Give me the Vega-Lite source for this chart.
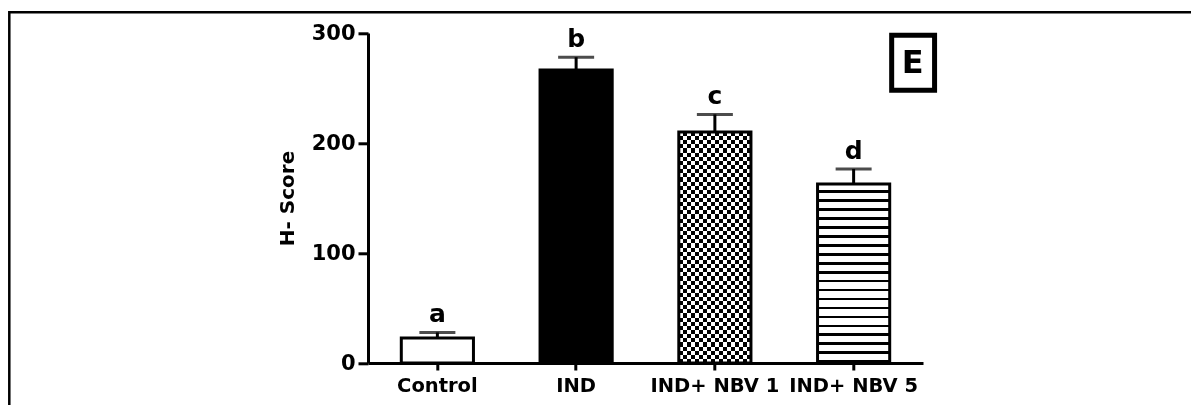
{
  "$schema": "https://vega.github.io/schema/vega-lite/v6.json",
  "autosize": "none",
  "padding": {"left": 9.3, "top": 12.3, "right": -12, "bottom": -12},
  "width": 1193.7,
  "height": 404.7,
  "background": "white",
  "config": {
    "view": {"stroke": "black", "strokeWidth": 2.5},
    "font": "DejaVu Sans"
  },
  "datasets": {
    "bars": [
      {"group": "Control", "mean": 22.7, "upper": 27.8, "letter": "a"},
      {"group": "IND", "mean": 266.4, "upper": 278, "letter": "b"},
      {"group": "IND+ NBV 1", "mean": 210, "upper": 226, "letter": "c"},
      {"group": "IND+ NBV 5", "mean": 162.7, "upper": 176.4, "letter": "d"}
    ],
    "panel": [
      {"group": "IND+ NBV 5", "mean": 273, "panel": "E"}
    ]
  },
  "data": {"name": "bars"},
  "encoding": {
    "x": {
      "field": "group", "type": "nominal", "sort": null,
      "scale": {"range": [358.7, 913.7], "paddingInner": 0.48, "paddingOuter": 0.24},
      "axis": {
        "title": null, "labelAngle": 0, "offset": -54,
        "domainColor": "black", "domainWidth": 3, "tickColor": "black", "tickWidth": 3, "tickSize": 7,
        "labelPadding": 6, "labelFont": "DejaVu Sans", "labelFontWeight": "bold", "labelFontSize": 19.5, "labelColor": "black",
        "grid": false
      }
    },
    "y": {
      "field": "mean", "type": "quantitative",
      "scale": {"domain": [0, 300], "range": [350.7, 20.7], "nice": false, "zero": true},
      "axis": {
        "title": "H- Score", "values": [0, 100, 200, 300], "offset": -358.7, "grid": false,
        "domainColor": "black", "domainWidth": 3, "tickColor": "black", "tickWidth": 3, "tickSize": 10,
        "labelPadding": 3, "labelFont": "DejaVu Sans", "labelFontWeight": "bold", "labelFontSize": 21, "labelColor": "black",
        "titleFont": "DejaVu Sans", "titleFontWeight": "bold", "titleFontSize": 20, "titleColor": "black", "titlePadding": 14
      }
    }
  },
  "layer": [
    {
      "transform": [{"filter": "datum.group === 'Control'"}],
      "mark": {"type": "bar", "fill": "white"}
    },
    {
      "transform": [{"filter": "datum.group === 'IND'"}],
      "mark": {"type": "bar", "fill": "black"}
    },
    {
      "transform": [{"filter": "datum.group === 'IND+ NBV 1'"}],
      "mark": {"type": "bar", "fill": {"gradient": "linear", "x1": 0, "y1": 0, "x2": 1, "y2": 0, "stops": [
        {"offset":0,"color":"black"},{"offset":0.0556,"color":"black"},{"offset":0.0556,"color":"white"},{"offset":0.1111,"color":"white"},{"offset":0.1111,"color":"black"},{"offset":0.1667,"color":"black"},{"offset":0.1667,"color":"white"},{"offset":0.2222,"color":"white"},{"offset":0.2222,"color":"black"},{"offset":0.2778,"color":"black"},{"offset":0.2778,"color":"white"},{"offset":0.3333,"color":"white"},{"offset":0.3333,"color":"black"},{"offset":0.3889,"color":"black"},{"offset":0.3889,"color":"white"},{"offset":0.4444,"color":"white"},{"offset":0.4444,"color":"black"},{"offset":0.5,"color":"black"},{"offset":0.5,"color":"white"},{"offset":0.5556,"color":"white"},{"offset":0.5556,"color":"black"},{"offset":0.6111,"color":"black"},{"offset":0.6111,"color":"white"},{"offset":0.6667,"color":"white"},{"offset":0.6667,"color":"black"},{"offset":0.7222,"color":"black"},{"offset":0.7222,"color":"white"},{"offset":0.7778,"color":"white"},{"offset":0.7778,"color":"black"},{"offset":0.8333,"color":"black"},{"offset":0.8333,"color":"white"},{"offset":0.8889,"color":"white"},{"offset":0.8889,"color":"black"},{"offset":0.9444,"color":"black"},{"offset":0.9444,"color":"white"},{"offset":1,"color":"white"}
      ]}}
    },
    {
      "transform": [{"filter": "datum.group === 'IND+ NBV 1'"}],
      "mark": {"type": "bar", "blend": "difference", "fill": {"gradient": "linear", "x1": 0, "y1": 0, "x2": 0, "y2": 1, "stops": [
        {"offset":0,"color":"white"},{"offset":0.0179,"color":"white"},
        {"offset":0.0179,"color":"black"},{"offset":0.0357,"color":"black"},
        {"offset":0.0357,"color":"white"},{"offset":0.0536,"color":"white"},
        {"offset":0.0536,"color":"black"},{"offset":0.0714,"color":"black"},
        {"offset":0.0714,"color":"white"},{"offset":0.0893,"color":"white"},
        {"offset":0.0893,"color":"black"},{"offset":0.1071,"color":"black"},
        {"offset":0.1071,"color":"white"},{"offset":0.125,"color":"white"},
        {"offset":0.125,"color":"black"},{"offset":0.1429,"color":"black"},
        {"offset":0.1429,"color":"white"},{"offset":0.1607,"color":"white"},
        {"offset":0.1607,"color":"black"},{"offset":0.1786,"color":"black"},
        {"offset":0.1786,"color":"white"},{"offset":0.1964,"color":"white"},
        {"offset":0.1964,"color":"black"},{"offset":0.2143,"color":"black"},
        {"offset":0.2143,"color":"white"},{"offset":0.2321,"color":"white"},
        {"offset":0.2321,"color":"black"},{"offset":0.25,"color":"black"},
        {"offset":0.25,"color":"white"},{"offset":0.2679,"color":"white"},
        {"offset":0.2679,"color":"black"},{"offset":0.2857,"color":"black"},
        {"offset":0.2857,"color":"white"},{"offset":0.3036,"color":"white"},
        {"offset":0.3036,"color":"black"},{"offset":0.3214,"color":"black"},
        {"offset":0.3214,"color":"white"},{"offset":0.3393,"color":"white"},
        {"offset":0.3393,"color":"black"},{"offset":0.3571,"color":"black"},
        {"offset":0.3571,"color":"white"},{"offset":0.375,"color":"white"},
        {"offset":0.375,"color":"black"},{"offset":0.3929,"color":"black"},
        {"offset":0.3929,"color":"white"},{"offset":0.4107,"color":"white"},
        {"offset":0.4107,"color":"black"},{"offset":0.4286,"color":"black"},
        {"offset":0.4286,"color":"white"},{"offset":0.4464,"color":"white"},
        {"offset":0.4464,"color":"black"},{"offset":0.4643,"color":"black"},
        {"offset":0.4643,"color":"white"},{"offset":0.4821,"color":"white"},
        {"offset":0.4821,"color":"black"},{"offset":0.5,"color":"black"},
        {"offset":0.5,"color":"white"},{"offset":0.5179,"color":"white"},
        {"offset":0.5179,"color":"black"},{"offset":0.5357,"color":"black"},
        {"offset":0.5357,"color":"white"},{"offset":0.5536,"color":"white"},
        {"offset":0.5536,"color":"black"},{"offset":0.5714,"color":"black"},
        {"offset":0.5714,"color":"white"},{"offset":0.5893,"color":"white"},
        {"offset":0.5893,"color":"black"},{"offset":0.6071,"color":"black"},
        {"offset":0.6071,"color":"white"},{"offset":0.625,"color":"white"},
        {"offset":0.625,"color":"black"},{"offset":0.6429,"color":"black"},
        {"offset":0.6429,"color":"white"},{"offset":0.6607,"color":"white"},
        {"offset":0.6607,"color":"black"},{"offset":0.6786,"color":"black"},
        {"offset":0.6786,"color":"white"},{"offset":0.6964,"color":"white"},
        {"offset":0.6964,"color":"black"},{"offset":0.7143,"color":"black"},
        {"offset":0.7143,"color":"white"},{"offset":0.7321,"color":"white"},
        {"offset":0.7321,"color":"black"},{"offset":0.75,"color":"black"},
        {"offset":0.75,"color":"white"},{"offset":0.7679,"color":"white"},
        {"offset":0.7679,"color":"black"},{"offset":0.7857,"color":"black"},
        {"offset":0.7857,"color":"white"},{"offset":0.8036,"color":"white"},
        {"offset":0.8036,"color":"black"},{"offset":0.8214,"color":"black"},
        {"offset":0.8214,"color":"white"},{"offset":0.8393,"color":"white"},
        {"offset":0.8393,"color":"black"},{"offset":0.8571,"color":"black"},
        {"offset":0.8571,"color":"white"},{"offset":0.875,"color":"white"},
        {"offset":0.875,"color":"black"},{"offset":0.8929,"color":"black"},
        {"offset":0.8929,"color":"white"},{"offset":0.9107,"color":"white"},
        {"offset":0.9107,"color":"black"},{"offset":0.9286,"color":"black"},
        {"offset":0.9286,"color":"white"},{"offset":0.9464,"color":"white"},
        {"offset":0.9464,"color":"black"},{"offset":0.9643,"color":"black"},
        {"offset":0.9643,"color":"white"},{"offset":0.9821,"color":"white"},
        {"offset":0.9821,"color":"black"},{"offset":1,"color":"black"}
      ]}}
    },
    {
      "transform": [{"filter": "datum.group === 'IND+ NBV 5'"}],
      "mark": {"type": "bar", "fill": {"gradient": "linear", "x1": 0, "y1": 0, "x2": 0, "y2": 1, "stops": [
        {"offset":0,"color":"white"},{"offset":0.035,"color":"white"},{"offset":0.035,"color":"black"},{"offset":0.05,"color":"black"},
        {"offset":0.05,"color":"white"},{"offset":0.085,"color":"white"},{"offset":0.085,"color":"black"},{"offset":0.1,"color":"black"},
        {"offset":0.1,"color":"white"},{"offset":0.135,"color":"white"},{"offset":0.135,"color":"black"},{"offset":0.15,"color":"black"},
        {"offset":0.15,"color":"white"},{"offset":0.185,"color":"white"},{"offset":0.185,"color":"black"},{"offset":0.2,"color":"black"},
        {"offset":0.2,"color":"white"},{"offset":0.235,"color":"white"},{"offset":0.235,"color":"black"},{"offset":0.25,"color":"black"},
        {"offset":0.25,"color":"white"},{"offset":0.285,"color":"white"},{"offset":0.285,"color":"black"},{"offset":0.3,"color":"black"},
        {"offset":0.3,"color":"white"},{"offset":0.335,"color":"white"},{"offset":0.335,"color":"black"},{"offset":0.35,"color":"black"},
        {"offset":0.35,"color":"white"},{"offset":0.385,"color":"white"},{"offset":0.385,"color":"black"},{"offset":0.4,"color":"black"},
        {"offset":0.4,"color":"white"},{"offset":0.435,"color":"white"},{"offset":0.435,"color":"black"},{"offset":0.45,"color":"black"},
        {"offset":0.45,"color":"white"},{"offset":0.485,"color":"white"},{"offset":0.485,"color":"black"},{"offset":0.5,"color":"black"},
        {"offset":0.5,"color":"white"},{"offset":0.535,"color":"white"},{"offset":0.535,"color":"black"},{"offset":0.55,"color":"black"},
        {"offset":0.55,"color":"white"},{"offset":0.585,"color":"white"},{"offset":0.585,"color":"black"},{"offset":0.6,"color":"black"},
        {"offset":0.6,"color":"white"},{"offset":0.635,"color":"white"},{"offset":0.635,"color":"black"},{"offset":0.65,"color":"black"},
        {"offset":0.65,"color":"white"},{"offset":0.685,"color":"white"},{"offset":0.685,"color":"black"},{"offset":0.7,"color":"black"},
        {"offset":0.7,"color":"white"},{"offset":0.735,"color":"white"},{"offset":0.735,"color":"black"},{"offset":0.75,"color":"black"},
        {"offset":0.75,"color":"white"},{"offset":0.785,"color":"white"},{"offset":0.785,"color":"black"},{"offset":0.8,"color":"black"},
        {"offset":0.8,"color":"white"},{"offset":0.835,"color":"white"},{"offset":0.835,"color":"black"},{"offset":0.85,"color":"black"},
        {"offset":0.85,"color":"white"},{"offset":0.885,"color":"white"},{"offset":0.885,"color":"black"},{"offset":0.9,"color":"black"},
        {"offset":0.9,"color":"white"},{"offset":0.935,"color":"white"},{"offset":0.935,"color":"black"},{"offset":0.95,"color":"black"},
        {"offset":0.95,"color":"white"},{"offset":0.985,"color":"white"},{"offset":0.985,"color":"black"},{"offset":1,"color":"black"}
      ]}}
    },
    {
      "mark": {"type": "bar", "fillOpacity": 0, "stroke": "black", "strokeWidth": 3}
    },
    {
      "mark": {"type": "rule", "color": "black", "strokeWidth": 3},
      "encoding": {"y2": {"field": "upper"}}
    },
    {
      "mark": {"type": "tick", "orient": "horizontal", "color": "black", "size": 36, "thickness": 3},
      "encoding": {"y": {"field": "upper", "type": "quantitative"}}
    },
    {
      "mark": {"type": "text", "font": "DejaVu Sans", "fontWeight": "bold", "fontSize": 25, "color": "black", "baseline": "alphabetic", "dy": -10},
      "encoding": {"y": {"field": "upper", "type": "quantitative"}, "text": {"field": "letter"}}
    },
    {
      "data": {"name": "panel"},
      "mark": {"type": "point", "shape": "M-0.78,-1H0.78V1H-0.78Z", "filled": false, "stroke": "black", "strokeWidth": 5, "size": 3025, "opacity": 1, "xOffset": 59.5}
    },
    {
      "data": {"name": "panel"},
      "mark": {"type": "text", "font": "DejaVu Sans", "fontWeight": "bold", "fontSize": 32, "color": "black", "baseline": "middle", "xOffset": 59, "dy": 0},
      "encoding": {"text": {"field": "panel"}}
    }
  ]
}
